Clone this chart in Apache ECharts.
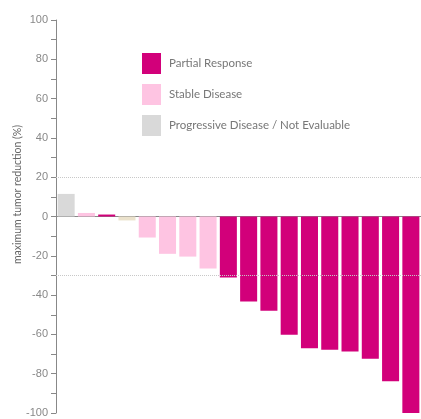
<!DOCTYPE html>
<html>
<head>
<meta charset="utf-8">
<style>
  html, body { margin: 0; padding: 0; background: #fff; }
  #chart { width: 421px; height: 419px; }
</style>
<script src="https://cdn.jsdelivr.net/npm/echarts@6/dist/echarts.min.js"></script>
</head>
<body>
<div id="chart"></div>
<script>
// One bar per patient, sorted from largest growth to largest reduction
const patients = ['P1','P2','P3','P4','P5','P6','P7','P8','P9','P10','P11','P12','P13','P14','P15','P16','P17','P18'];
const changePct = [11.5, 1.8, 1, -2, -10.7, -19, -20.4, -26.5, -31, -43.3, -48, -60.2, -67, -67.8, -68.7, -72.4, -83.8, -100];
const bestResponse = ['PD','SD','PR','SD','SD','SD','SD','SD','PR','PR','PR','PR','PR','PR','PR','PR','PR','PR'];
const yTicks = [-100, -80, -60, -40, -20, 0, 20, 40, 60, 80, 100];
const thresholds = [20, -30];

const groups = [
  { key: 'PR', name: 'Partial Response', color: '#d2007a' },
  { key: 'SD', name: 'Stable Disease', color: '#fec4e2' },
  { key: 'PD', name: 'Progressive Disease / Not Evaluable', color: '#d9d9d9' }
];
// patient 4 is drawn in a pale neutral tone
const overrides = { 3: '#ebe2cc' };

const font = 'Lato, "Open Sans", sans-serif';

const series = groups.map((g, gi) => ({
  name: g.name,
  type: 'bar',
  stack: 'resp',
  barCategoryGap: '16%',
  itemStyle: { color: g.color },
  data: changePct.map((v, i) => {
    if (bestResponse[i] !== g.key) return null;
    if (overrides[i]) return { value: v, itemStyle: { color: overrides[i] } };
    return v;
  }),
  markLine: gi === 0 ? {
    silent: true,
    symbol: 'none',
    label: { show: false },
    lineStyle: { type: 'dotted', color: '#c8c8c8', width: 1 },
    data: thresholds.map(t => ({ yAxis: t }))
  } : undefined
}));

const chart = echarts.init(document.getElementById('chart'));
chart.setOption({
  animation: false,
  grid: { left: 56, right: 0, top: 20, bottom: 6 },
  legend: {
    orient: 'vertical',
    left: 142,
    top: 53,
    padding: 0,
    itemWidth: 19,
    itemHeight: 21,
    itemGap: 10,
    icon: 'rect',
    textStyle: { color: '#777', fontSize: 11.5, fontFamily: font, padding: [0, 0, 0, 3] },
    data: groups.map(g => g.name)
  },
  xAxis: {
    type: 'category',
    data: patients,
    axisLine: { show: true, onZero: true, lineStyle: { color: '#888', width: 1 } },
    axisTick: { show: false },
    axisLabel: { show: false },
    splitLine: { show: false }
  },
  yAxis: {
    type: 'value',
    min: yTicks[0],
    max: yTicks[yTicks.length - 1],
    interval: 10,
    axisLine: { show: true, lineStyle: { color: '#888', width: 1 } },
    axisTick: { show: true, length: 5, lineStyle: { color: '#888' } },
    axisLabel: {
      color: '#888',
      fontSize: 11,
      fontFamily: '"Liberation Sans", Arial, sans-serif',
      margin: 8,
      formatter: v => (yTicks.indexOf(v) >= 0 ? String(v) : '')
    },
    splitLine: { show: false }
  },
  graphic: [{
    type: 'text',
    left: 12,
    top: 125,
    rotation: Math.PI / 2,
    style: {
      text: 'maximum tumor reduction (%)',
      fill: '#666',
      fontSize: 10.5,
      fontFamily: font
    }
  }],
  series: series
});
</script>
</body>
</html>
